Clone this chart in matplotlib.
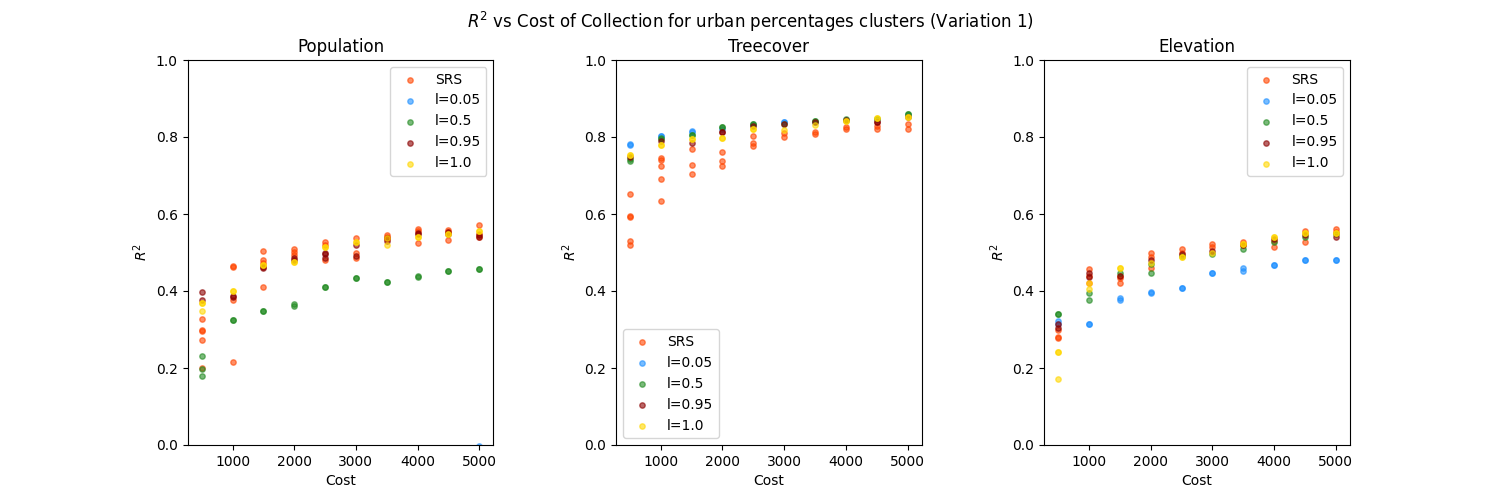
import matplotlib
matplotlib.use('Agg')
from matplotlib import pyplot as plt

costs = [500, 1000, 1500, 2000, 2500, 3000, 3500, 4000, 4500, 5000]
labels = ['SRS', 'l=0.05', 'l=0.5', 'l=0.95', 'l=1.0']
colors = ['orangered', 'dodgerblue', 'forestgreen', 'darkred', 'gold']

# one list of R^2 values per cost, several runs per cost
pop_srs = [[0.326, 0.300, 0.296, 0.272, 0.200], [0.462, 0.465, 0.377, 0.215],
           [0.503, 0.481, 0.474, 0.410], [0.508, 0.501, 0.494], [0.527, 0.520, 0.480],
           [0.538, 0.500, 0.486], [0.545, 0.540, 0.534], [0.561, 0.555, 0.524],
           [0.558, 0.552, 0.532], [0.571, 0.548, 0.539]]
pop_l005 = [[], [], [], [], [], [], [], [], [], [-0.002]]
pop_l05 = [[0.230, 0.197, 0.178], [0.324, 0.325], [0.347, 0.347], [0.365, 0.362],
           [0.410, 0.410], [0.433, 0.433], [0.423, 0.423], [0.437, 0.439],
           [0.453, 0.453], [0.458, 0.458]]
pop_l095 = [[0.397, 0.377], [0.384, 0.386], [0.459, 0.463], [0.480, 0.485],
            [0.496, 0.498, 0.485], [0.491, 0.520], [0.538, 0.530], [0.550, 0.547],
            [0.548, 0.552], [0.540, 0.545]]
pop_l1 = [[0.368, 0.368, 0.347], [0.399, 0.399], [0.467, 0.467], [0.476, 0.476],
          [0.515, 0.515], [0.526, 0.526], [0.519, 0.537], [0.539, 0.539],
          [0.547, 0.547], [0.556, 0.556]]

tree_srs = [[0.652, 0.596, 0.593, 0.530, 0.519], [0.745, 0.740, 0.725, 0.691, 0.634],
            [0.770, 0.727, 0.704], [0.760, 0.738, 0.725], [0.803, 0.785, 0.777],
            [0.810, 0.801], [0.814, 0.808], [0.827, 0.820], [0.829, 0.820],
            [0.834, 0.820]]
tree_l005 = [[0.779, 0.783], [0.803, 0.803], [0.816, 0.812], [0.820], [0.832],
             [0.838, 0.838], [0.840], [0.845], [0.848], [0.856]]
tree_l05 = [[0.738, 0.742], [0.794, 0.798], [0.805, 0.805], [0.825, 0.825], [0.834, 0.834],
            [0.835], [0.842, 0.842], [0.847], [0.848], [0.859, 0.859]]
tree_l095 = [[0.748], [0.790], [0.785], [0.813, 0.813], [0.829], [0.833], [0.838],
             [0.845], [0.840, 0.840], [0.852]]
tree_l1 = [[0.753, 0.753], [0.779, 0.779], [0.794, 0.794], [0.798, 0.798], [0.820, 0.820],
           [0.818], [0.831], [0.842, 0.842], [0.850, 0.850], [0.853, 0.853]]

elev_srs = [[0.299, 0.277, 0.280], [0.456, 0.440, 0.420], [0.433, 0.420, 0.440],
            [0.498, 0.489, 0.461], [0.508, 0.500], [0.521, 0.513], [0.528, 0.520],
            [0.515, 0.530], [0.557, 0.526], [0.560, 0.552]]
elev_l005 = [[0.323, 0.315], [0.313, 0.313], [0.381, 0.377], [0.398, 0.396], [0.407, 0.407],
             [0.446, 0.446], [0.459, 0.453], [0.468, 0.468], [0.480, 0.480], [0.480, 0.480]]
elev_l05 = [[0.339, 0.339], [0.394, 0.377], [0.448], [0.448, 0.470], [0.490], [0.496],
            [0.509], [0.528], [0.541], [0.548]]
elev_l095 = [[0.313, 0.303], [0.446, 0.437], [0.440], [0.480], [0.495], [0.505], [0.520],
             [0.535], [0.545], [0.541]]
elev_l1 = [[0.241, 0.241, 0.171], [0.422, 0.404], [0.461, 0.461], [0.472], [0.489, 0.489],
           [0.500], [0.522, 0.522], [0.541, 0.541], [0.550, 0.550], [0.550, 0.550]]

panels = [
    ('Population', [pop_srs, pop_l005, pop_l05, pop_l095, pop_l1], 'upper right'),
    ('Treecover', [tree_srs, tree_l005, tree_l05, tree_l095, tree_l1], 'lower left'),
    ('Elevation', [elev_srs, elev_l005, elev_l05, elev_l095, elev_l1], 'upper right'),
]

fig, axes = plt.subplots(1, 3, figsize=(15, 5))
fig.subplots_adjust(wspace=0.4)

for ax, (title, series, loc) in zip(axes, panels):
    for lab, col, runs in zip(labels, colors, series):
        xs = []
        ys = []
        for c, vals in zip(costs, runs):
            xs += [c] * len(vals)
            ys += vals
        ax.scatter(xs, ys, s=15, color=col, alpha=0.6, label=lab)
    ax.set_ylim([0, 1])
    ax.set_xlim([270, 5230])
    ax.set_title(title)
    ax.set_xlabel('Cost')
    ax.set_ylabel('$R^2$')
    ax.legend(loc=loc)

fig.suptitle('$R^2$ vs Cost of Collection for urban percentages clusters (Variation 1)')

plt.savefig('out.png', dpi=100)
